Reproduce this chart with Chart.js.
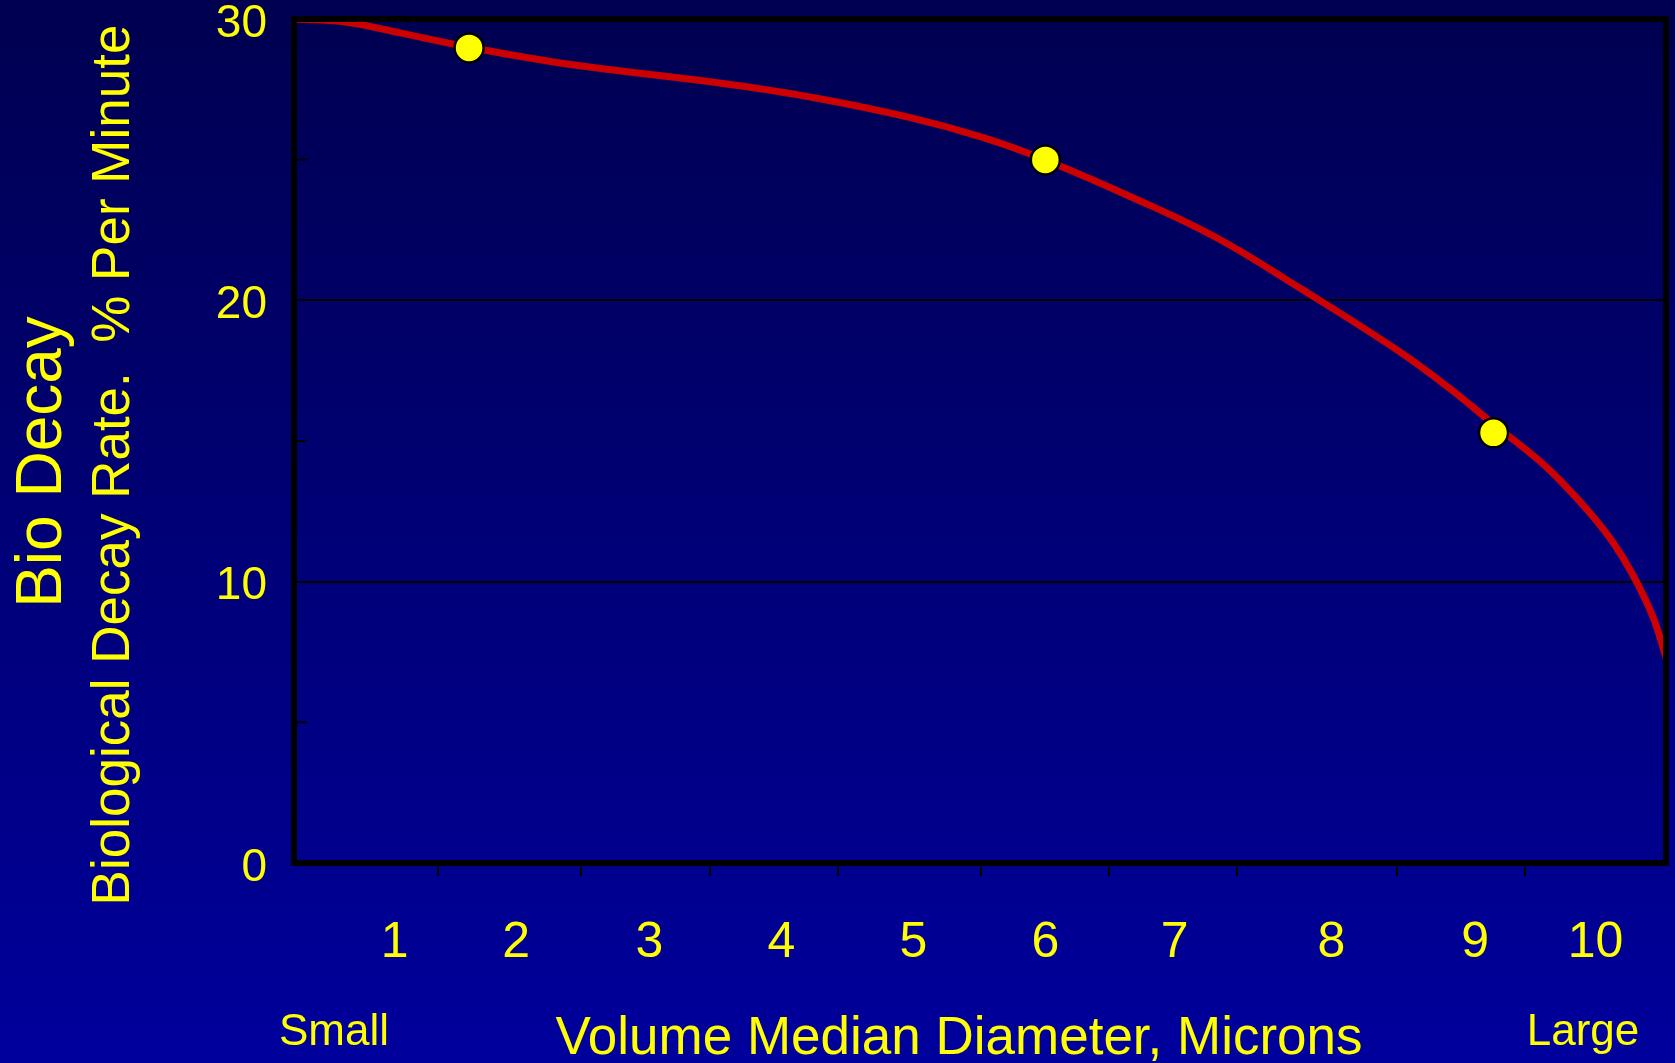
<!DOCTYPE html>
<html>
<head>
<meta charset="utf-8">
<title>Bio Decay</title>
<script src="https://cdn.jsdelivr.net/npm/chart.js@4.4.1/dist/chart.umd.min.js"></script>
<style>
    html, body { margin: 0; padding: 0; background: #000070; }
    #wrap { width: 1675px; height: 1063px; }
</style>
</head>
<body>
<div id="wrap"><canvas id="bio-decay-chart" width="1675" height="1063"></canvas></div>
<script>
// x is in axis units: 0 = left frame, 10.5 = right frame
var curveX = [0, 0.38, 0.82, 1.34, 2.12, 3.23, 3.97, 4.71, 5.27, 5.75, 6.39, 7.05, 7.70, 8.46, 8.85, 9.18, 9.51, 9.71, 9.92, 10.10, 10.25, 10.40, 10.5];
var curveY = [30, 29.9, 29.5, 29.0, 28.38, 27.74, 27.21, 26.5, 25.79, 24.99, 23.71, 22.25, 20.43, 18.18, 16.85, 15.6, 14.38, 13.5, 12.43, 11.36, 10.21, 8.75, 7.3];

// the three yellow dots
var markerX = [1.34, 5.75, 9.18];
var markerY = [28.97, 24.99, 15.29];

// x axis: where the tick marks sit, and where the numbers sit
var xTickPos = [1.10, 2.20, 3.18, 4.16, 5.26, 6.24, 7.22, 8.44, 9.42];
var xLabelPos = [0.77, 1.70, 2.72, 3.73, 4.74, 5.75, 6.74, 7.94, 9.04, 9.96];
var xLabels = ['1', '2', '3', '4', '5', '6', '7', '8', '9', '10'];

// y axis
var yLabelValues = [0, 10, 20, 30];
var yGridValues = [10, 20];
var yMinorTicks = [5, 15, 25];

var FONT = "'Liberation Sans', Arial, Helvetica, sans-serif";
var YELLOW = '#ffff00';

function zip(xs, ys) {
    return xs.map(function(x, i) { return { x: x, y: ys[i] }; });
}

// gradient slide background
var backdrop = {
    id: 'backdrop',
    beforeDraw: function(chart) {
        var ctx = chart.ctx;
        var g = ctx.createLinearGradient(0, 0, 0, chart.height);
        g.addColorStop(0, '#000050');
        g.addColorStop(1, '#00009c');
        ctx.save();
        ctx.fillStyle = g;
        ctx.fillRect(0, 0, chart.width, chart.height);
        ctx.restore();
    }
};

// black frame round the plot plus the short inner ticks on y
var frame = {
    id: 'frame',
    afterDatasetsDraw: function(chart) {
        var ctx = chart.ctx;
        var a = chart.chartArea;
        var y = chart.scales.y;
        ctx.save();
        ctx.strokeStyle = '#000';
        ctx.lineWidth = 2;
        yMinorTicks.forEach(function(v) {
            var py = y.getPixelForValue(v);
            ctx.beginPath();
            ctx.moveTo(a.left, py);
            ctx.lineTo(a.left + 13, py);
            ctx.stroke();
        });
        ctx.lineWidth = 6;
        ctx.strokeRect(a.left, a.top, a.right - a.left, a.bottom - a.top);
        ctx.restore();
    }
};

// axis titles and the Small / Large notes
var captions = {
    id: 'captions',
    afterDraw: function(chart) {
        var ctx = chart.ctx;
        ctx.save();
        ctx.fillStyle = YELLOW;
        ctx.textAlign = 'center';
        ctx.textBaseline = 'middle';

        ctx.save();
        ctx.translate(43, 462);
        ctx.rotate(-Math.PI / 2);
        ctx.font = '64px ' + FONT;
        ctx.fillText('Bio Decay', 0, 0);
        ctx.restore();

        ctx.save();
        ctx.translate(114, 465);
        ctx.rotate(-Math.PI / 2);
        ctx.font = '53px ' + FONT;
        ctx.fillText('Biological Decay Rate.  % Per Minute', 0, 0);
        ctx.restore();

        ctx.font = '53px ' + FONT;
        ctx.fillText('Volume Median Diameter, Microns', 959, 1039);

        ctx.font = '44px ' + FONT;
        ctx.fillText('Small', 334, 1033);
        ctx.fillText('Large', 1583, 1033);
        ctx.restore();
    }
};

function noSidePadding(s) {
    s.paddingLeft = 0;
    s.paddingRight = 0;
}

var ctx = document.getElementById('bio-decay-chart').getContext('2d');

var decayChart = new Chart(ctx, {
    type: 'scatter',
    data: {
        datasets: [{
            label: 'Decay rate',
            data: zip(curveX, curveY),
            showLine: true,
            borderColor: '#cc0000',
            borderWidth: 7,
            pointRadius: 0,
            tension: 0.4,
            order: 2
        }, {
            label: 'Measured',
            data: zip(markerX, markerY),
            showLine: false,
            pointRadius: 14.5,
            pointBackgroundColor: YELLOW,
            pointBorderColor: '#000',
            pointBorderWidth: 2.5,
            order: 1
        }]
    },
    options: {
        responsive: false,
        animation: false,
        layout: {
            autoPadding: false,
            padding: { left: 0, right: 9, top: 19, bottom: 0 }
        },
        plugins: {
            legend: { display: false },
            tooltip: { enabled: false }
        },
        scales: {
            x: {
                type: 'linear',
                min: 0,
                max: 10.5,
                position: 'bottom',
                weight: 0,
                afterBuildTicks: function(s) {
                    s.ticks = xTickPos.map(function(v) { return { value: v }; });
                },
                ticks: { display: false },
                grid: { drawOnChartArea: false, drawTicks: true, tickLength: 13, color: '#000', lineWidth: 2 },
                border: { display: false },
                afterFit: function(s) {
                    s.height = 13;
                    noSidePadding(s);
                }
            },
            xl: {
                type: 'linear',
                min: 0,
                max: 10.5,
                position: 'bottom',
                weight: 1,
                afterBuildTicks: function(s) {
                    s.ticks = xLabelPos.map(function(v) { return { value: v }; });
                },
                ticks: {
                    color: YELLOW,
                    font: { family: FONT, size: 50 },
                    padding: 37,
                    autoSkip: false,
                    maxRotation: 0,
                    callback: function(v, i) { return xLabels[i]; }
                },
                grid: { display: false, drawTicks: false },
                border: { display: false },
                afterFit: function(s) {
                    s.height = 1063 - 863 - 13;
                    noSidePadding(s);
                }
            },
            y: {
                min: 0,
                max: 30,
                afterBuildTicks: function(s) {
                    s.ticks = yLabelValues.map(function(v) { return { value: v }; });
                },
                ticks: {
                    color: YELLOW,
                    font: { family: FONT, size: 46 },
                    padding: 27,
                    labelOffset: 5
                },
                grid: {
                    drawTicks: false,
                    lineWidth: 2,
                    color: function(c) {
                        return yGridValues.indexOf(c.tick.value) >= 0 ? '#000' : 'rgba(0,0,0,0)';
                    }
                },
                border: { display: false },
                afterFit: function(s) {
                    s.width = 294;
                    s.paddingTop = 0;
                    s.paddingBottom = 0;
                }
            }
        }
    },
    plugins: [backdrop, frame, captions]
});
</script>
</body>
</html>
